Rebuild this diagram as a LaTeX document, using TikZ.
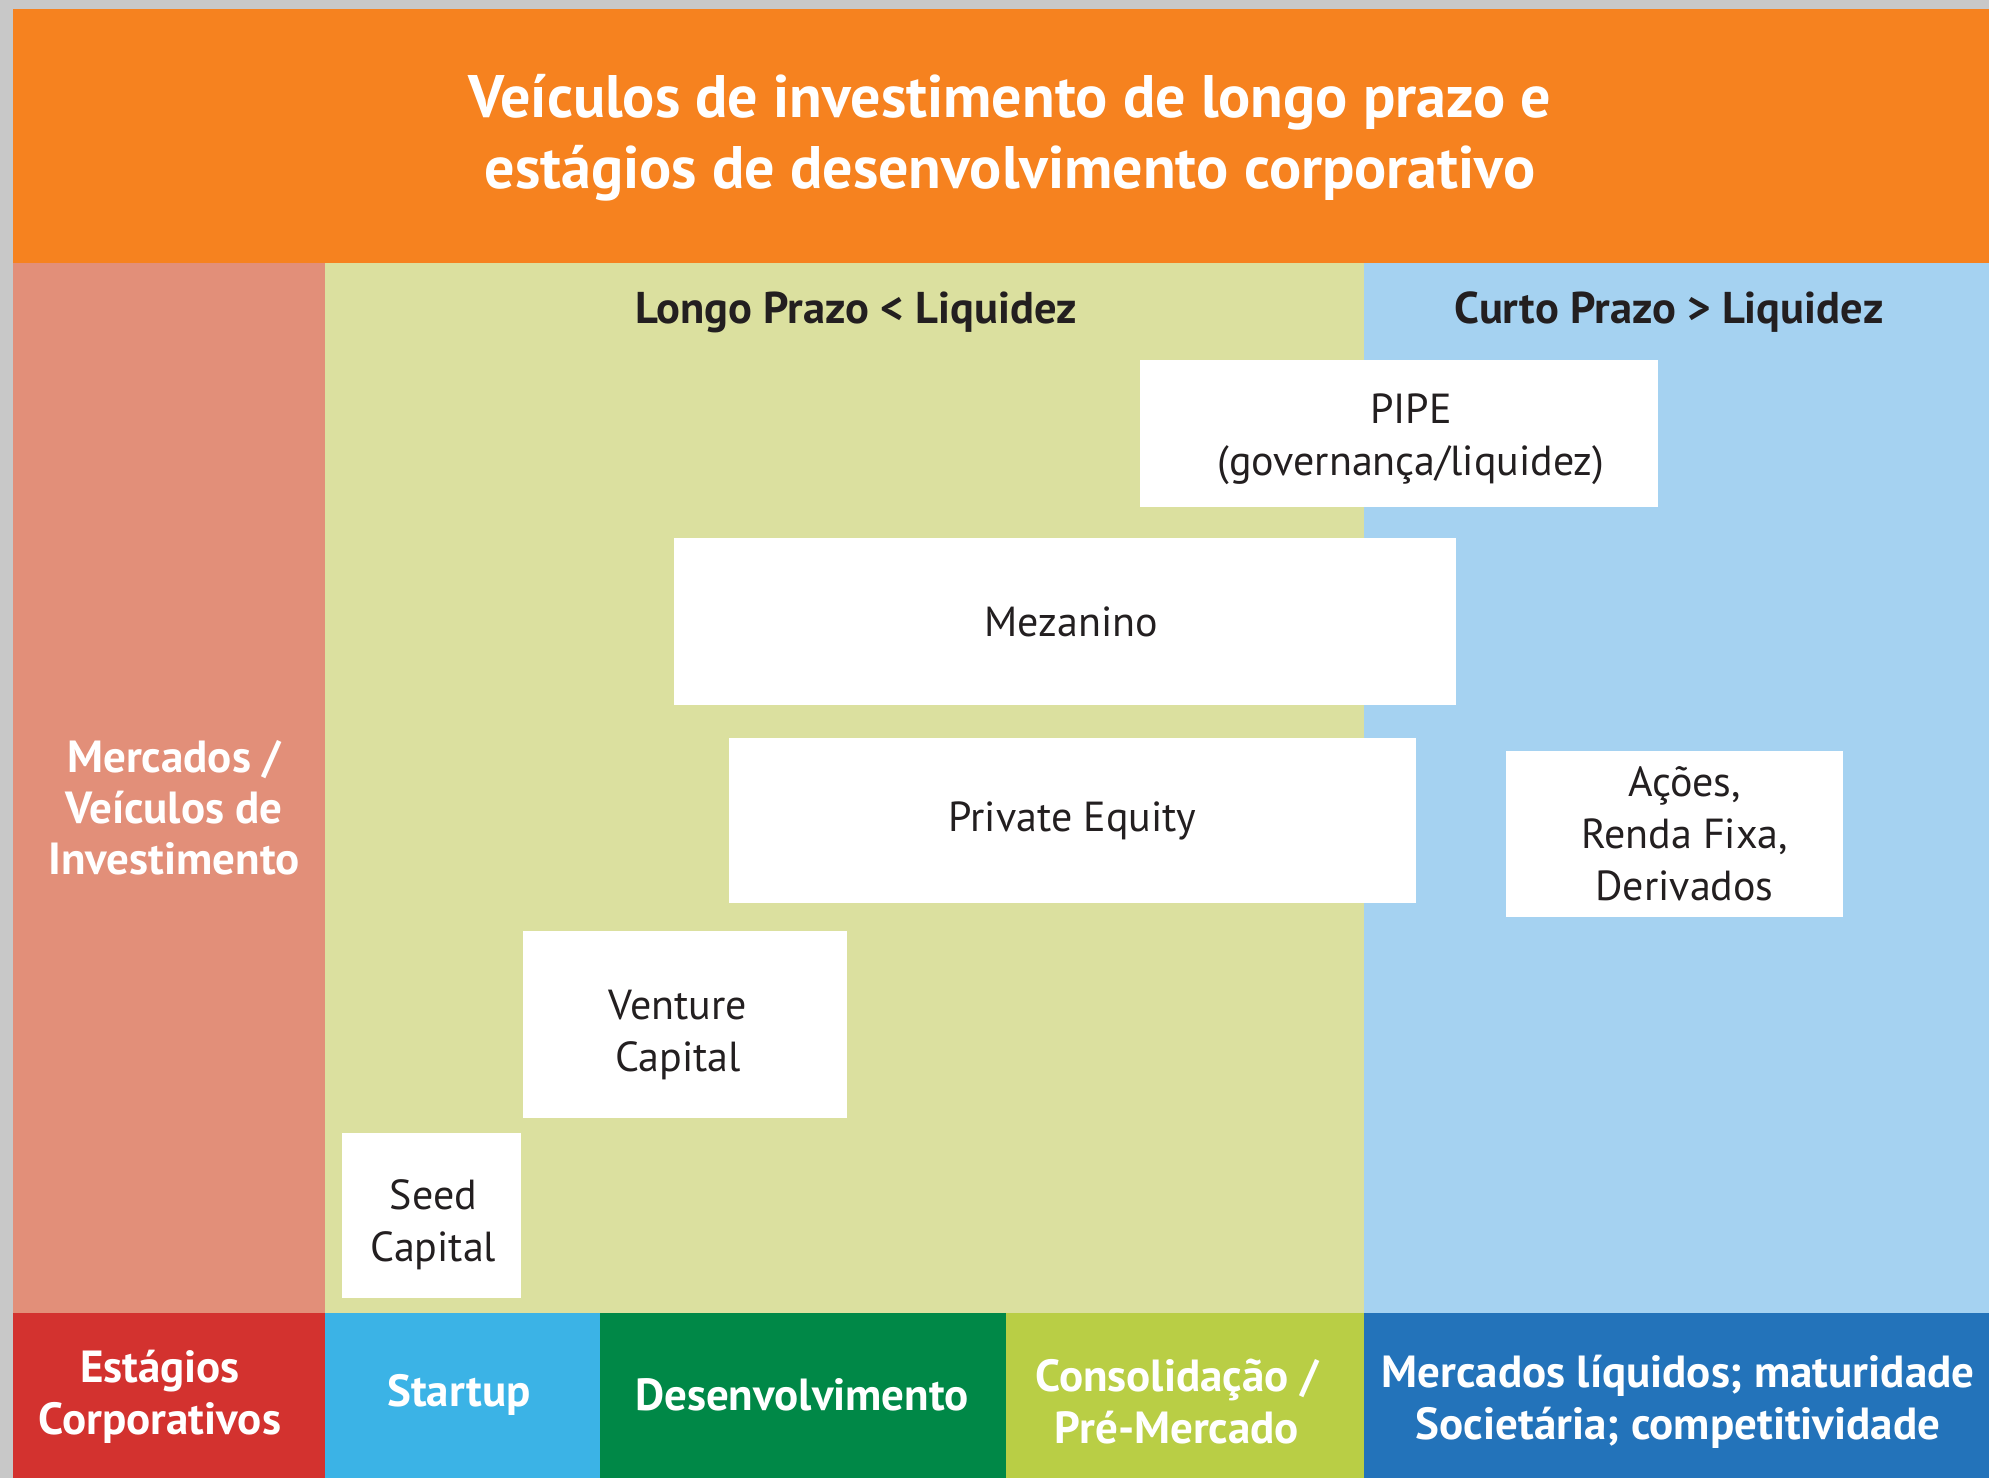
\documentclass[tikz,border=0pt]{standalone}
\usepackage{fontspec}
\setmainfont{PT Sans}
\definecolor{bordergray}{HTML}{C8C8C8}
\definecolor{titleorange}{HTML}{F6821F}
\definecolor{salmon}{HTML}{E28F79}
\definecolor{lightgreen}{HTML}{DBE09F}
\definecolor{lightblue}{HTML}{A5D2F1}
\definecolor{stagered}{HTML}{D3322F}
\definecolor{startupblue}{HTML}{3BB3E6}
\definecolor{darkgreen}{HTML}{008847}
\definecolor{lime}{HTML}{B9CE45}
\definecolor{deepblue}{HTML}{2373BA}
\definecolor{textdark}{HTML}{231F20}
\tikzset{
  region/.style={inner sep=0pt, outer sep=0pt, draw=none, anchor=center},
  vehicle/.style={region, fill=white},
  vehicletext/.style={inner sep=0pt, text=textdark, align=center,
    font=\fontsize{42}{52}\selectfont},
  stagelabel/.style={inner sep=0pt, text=white, align=center,
    font=\fontsize{45}{52}\selectfont\bfseries},
  headlabel/.style={inner sep=0pt, text=textdark, align=center,
    font=\fontsize{44.5}{50}\selectfont\bfseries}
}
\begin{document}
\begin{tikzpicture}[x=1pt,y=-1pt]
\useasboundingbox (0,0) rectangle (1989,1478);
\fill[bordergray] (0,0) rectangle (1989,1478);
% title band
\node[region, fill=titleorange, minimum width=1976pt, minimum height=254pt] (title) at (1001,136) {};
\node[inner sep=0pt, text=white, align=center, font=\fontsize{60}{71}\selectfont\bfseries] (titletext) at (1010,138)
  {Veículos de investimento de longo prazo e\\estágios de desenvolvimento corporativo};
% columns
\node[region, fill=salmon, minimum width=312pt, minimum height=1050pt] (leftcol) at (169,788) {};
\node[region, fill=lightgreen, minimum width=1039pt, minimum height=1050pt] (longo) at (844.5,788) {};
\node[region, fill=lightblue, minimum width=625pt, minimum height=1050pt] (curto) at (1676.5,788) {};
\node[stagelabel, font=\fontsize{45}{51}\selectfont\bfseries] (leftlabel) at (174,808) {Mercados /\\Veículos de\\Investimento};
\node[headlabel] (longohead) at (856,312) {Longo Prazo < Liquidez};
\node[headlabel] (curtohead) at (1669,312) {Curto Prazo > Liquidez};
% vehicles
\node[vehicle, minimum width=518pt, minimum height=147pt] (pipe) at (1399,433.5) {};
\node[vehicle, minimum width=782pt, minimum height=167pt] (mez) at (1065,621.5) {};
\node[vehicle, minimum width=687pt, minimum height=165pt] (pe) at (1072.5,820.5) {};
\node[vehicle, minimum width=337pt, minimum height=166pt] (acoes) at (1674.5,834) {};
\node[vehicle, minimum width=324pt, minimum height=187pt] (vc) at (685,1024.5) {};
\node[vehicle, minimum width=179pt, minimum height=165pt] (seed) at (431.5,1215.5) {};
\node[vehicletext] (pipetext) at ([shift={(12,6)}]pipe.center) {PIPE\\(governança/liquidez)};
\node[vehicletext] (meztext) at ([shift={(6,0)}]mez.center) {Mezanino};
\node[vehicletext] (petext) at (pe.center) {Private Equity};
\node[vehicletext] (acoestext) at ([shift={(10,0)}]acoes.center) {Ações,\\Renda Fixa,\\Derivados};
\node[vehicletext] (vctext) at ([shift={(-7,10)}]vc.center) {Venture\\Capital};
\node[vehicletext] (seedtext) at ([shift={(2,9)}]seed.center) {Seed\\Capital};
% bottom row
\node[region, fill=stagered, minimum width=312pt, minimum height=165pt] (stages) at (169,1395.5) {};
\node[region, fill=startupblue, minimum width=275pt, minimum height=165pt] (startup) at (462.5,1395.5) {};
\node[region, fill=darkgreen, minimum width=406pt, minimum height=165pt] (desenv) at (803,1395.5) {};
\node[region, fill=lime, minimum width=358pt, minimum height=165pt] (consol) at (1185,1395.5) {};
\node[region, fill=deepblue, minimum width=625pt, minimum height=165pt] (merc) at (1676.5,1395.5) {};
\node[stagelabel] (stagestext) at (160,1397) {Estágios\\Corporativos};
\node[stagelabel] (startuptext) at (459,1395) {Startup};
\node[stagelabel] (desenvtext) at (802,1395) {Desenvolvimento};
\node[stagelabel] (consoltext) at (1177,1402) {Consolidação /\\Pré-Mercado};
\node[stagelabel] (merctext) at (1678,1402) {Mercados líquidos; maturidade\\Societária; competitividade};
\end{tikzpicture}
\end{document}
